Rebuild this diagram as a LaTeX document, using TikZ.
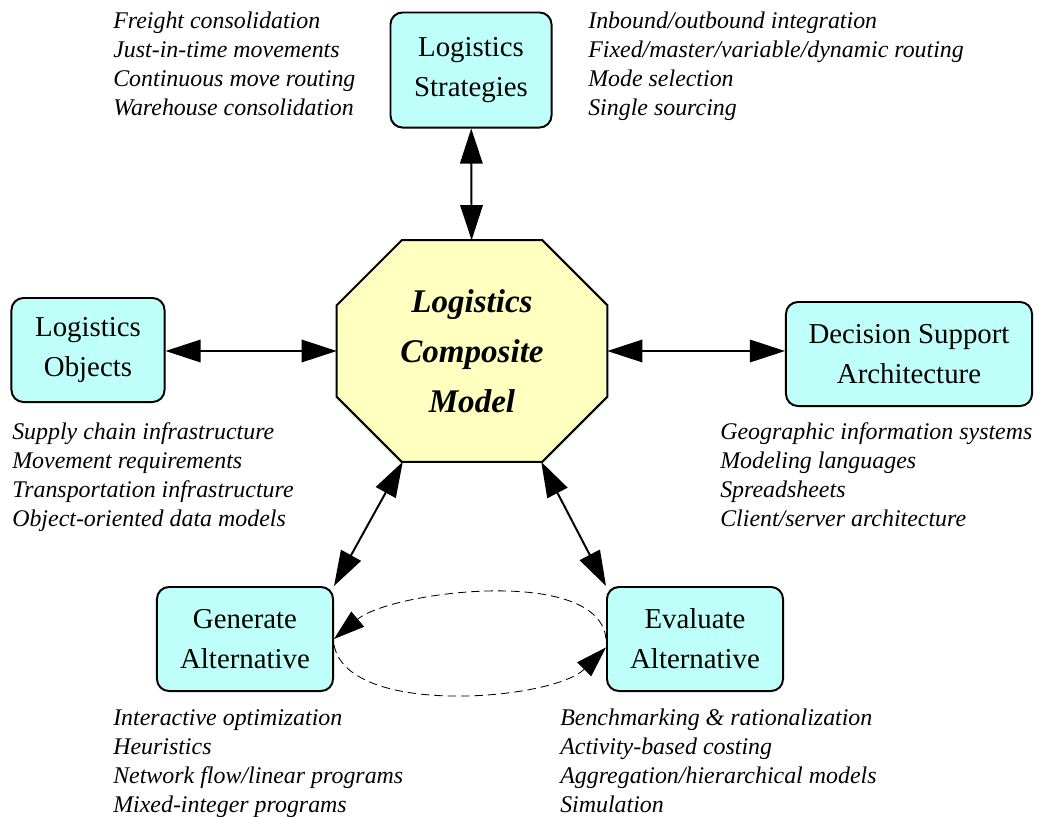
\documentclass[tikz,border=0pt]{standalone}
\usepackage{fontspec}
\setmainfont{Liberation Serif}
\usetikzlibrary{arrows.meta,backgrounds}
\definecolor{boxcyan}{RGB}{191,255,250}
\definecolor{coreyellow}{RGB}{255,255,192}

\begin{document}
\begin{tikzpicture}[x=0.025cm, y=-0.025cm,
  box/.style={draw, line width=1.4pt, rounded corners=0.3cm, fill=boxcyan, align=center,
    minimum height=2.6cm, font=\fontsize{20.5}{28.5}\selectfont},
  core/.style={minimum width=6.75cm, minimum height=5.525cm, inner sep=0pt, align=center,
    font=\fontsize{23.5}{35.5}\selectfont\bfseries\itshape},
  octagon/.style={draw, line width=1.4pt, fill=coreyellow, line join=miter},
  note/.style={anchor=north west, inner sep=0pt, align=left,
    font=\fontsize{17}{20.6}\selectfont\itshape},
  link/.style={line width=1.4pt, {Triangle[length=25pt,width=16pt]}-{Triangle[length=25pt,width=16pt]}},
  loop/.style={line width=0.6pt, dash pattern=on 6pt off 3.5pt, -{Triangle[length=22pt,width=14pt]}}]
  \useasboundingbox (0,0) rectangle (1044,816);

  \node (core) [core] at (472,351) {Logistics\\Composite\\Model};
  \begin{scope}[on background layer]
    \path [octagon] ([xshift=1.625cm]core.north west) -- ([xshift=-1.625cm]core.north east)
      -- ([yshift=-1.625cm]core.north east) -- ([yshift=1.625cm]core.south east)
      -- ([xshift=-1.625cm]core.south east) -- ([xshift=1.625cm]core.south west)
      -- ([yshift=1.625cm]core.south west) -- ([yshift=-1.625cm]core.north west) -- cycle;
  \end{scope}
  \node (strat) [box, minimum width=4.025cm, minimum height=2.875cm] at (471,70) {Logistics\\Strategies};
  \node (obj) [box, minimum width=3.825cm] at (88,350) {Logistics\\Objects};
  \node (dss) [box, minimum width=6.15cm] at (909,354) {Decision Support\\Architecture};
  \node (gen) [box, minimum width=4.4cm] at (245,639) {Generate\\Alternative};
  \node (eval) [box, minimum width=4.4cm] at (695,639) {Evaluate\\Alternative};

  % lists of functions
  \node (stratL) [note] at (113,12) {Freight consolidation\\Just-in-time movements\\Continuous move routing\\Warehouse consolidation};
  \node (stratR) [note] at (588,12) {Inbound/outbound integration\\Fixed/master/variable/dynamic routing\\Mode selection\\Single sourcing};
  \node (objL) [note] at (12,422) {Supply chain infrastructure\\Movement requirements\\Transportation infrastructure\\Object-oriented data models};
  \node (dssL) [note] at (720,422) {Geographic information systems\\Modeling languages\\Spreadsheets\\Client/server architecture};
  \node (genL) [note] at (113,709) {Interactive optimization\\Heuristics\\Network flow/linear programs\\Mixed-integer programs};
  \node (evalL) [note] at (560,709) {Benchmarking \& rationalization\\Activity-based costing\\Aggregation/hierarchical models\\Simulation};

  \draw [link] (strat) -- (core);
  \draw [link] (core.west -| obj.east) -- (core.west);
  \draw [link] (core.east) -- (core.east -| dss.west);
  \draw [link] (core.-122) -- (gen.north east);
  \draw [link] (core.-58) -- (eval.north west);

  % feedback loop
  \draw [loop] (eval.west) to[out=95, in=40, looseness=0.7] (gen.east);
  \draw [loop] ([yshift=-4pt]gen.east) to[out=-80, in=-135, looseness=0.7] ([yshift=-6pt]eval.west);
\end{tikzpicture}
\end{document}
